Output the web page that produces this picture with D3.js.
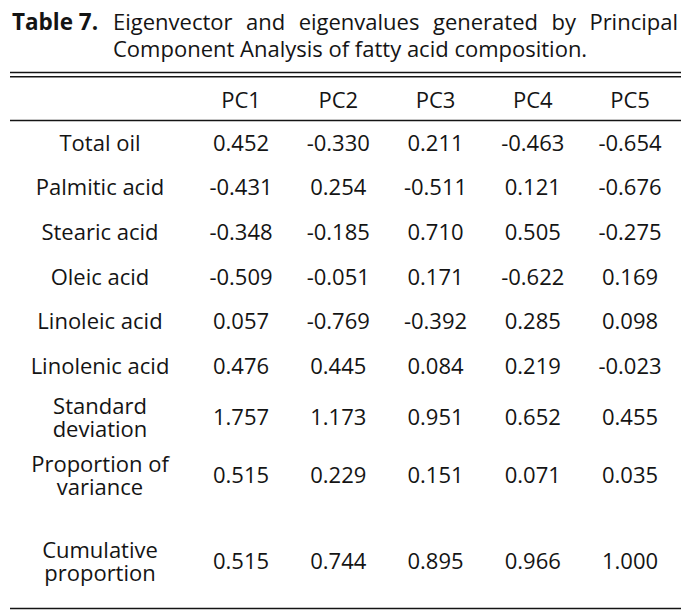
<!DOCTYPE html>
<html>
<head>
<meta charset="utf-8">
<script src="https://cdn.jsdelivr.net/npm/d3@7"></script>
<style>
  html, body { margin: 0; padding: 0; background: #fff; }
  svg { display: block; }
</style>
</head>
<body>
<svg id="chart" width="699" height="611"></svg>
<script>
// ---------- DATA ----------
const titleLabel = "Table 7.";
const titleLine1 = ["Eigenvector", "and", "eigenvalues", "generated", "by", "Principal"];
const titleLine2 = "Component Analysis of fatty acid composition.";

const columns = ["PC1", "PC2", "PC3", "PC4", "PC5"];
const rowLabels = [
  ["Total oil"],
  ["Palmitic acid"],
  ["Stearic acid"],
  ["Oleic acid"],
  ["Linoleic acid"],
  ["Linolenic acid"],
  ["Standard", "deviation"],
  ["Proportion of", "variance"],
  ["Cumulative", "proportion"]
];
const pc1 = ["0.452", "-0.431", "-0.348", "-0.509", "0.057", "0.476", "1.757", "0.515", "0.515"];
const pc2 = ["-0.330", "0.254", "-0.185", "-0.051", "-0.769", "0.445", "1.173", "0.229", "0.744"];
const pc3 = ["0.211", "-0.511", "0.710", "0.171", "-0.392", "0.084", "0.951", "0.151", "0.895"];
const pc4 = ["-0.463", "0.121", "0.505", "-0.622", "0.285", "0.219", "0.652", "0.071", "0.966"];
const pc5 = ["-0.654", "-0.676", "-0.275", "0.169", "0.098", "-0.023", "0.455", "0.035", "1.000"];
const seriesValues = [pc1, pc2, pc3, pc4, pc5];

// ---------- LAYOUT ----------
const FONT = "'Open Sans', Lato, 'DejaVu Sans', sans-serif";
const FS = 22;
const INK = "#141414";
const left = 10, right = 681;
const svg = d3.select("#chart");

// Title
svg.append("text")
  .attr("x", 12).attr("y", 30)
  .attr("font-family", "'Open Sans', sans-serif")
  .attr("font-weight", "bold")
  .attr("font-size", 22.5)
  .attr("fill", INK)
  .text(titleLabel);
const indent = 113;
const words = svg.append("g").selectAll("text").data(titleLine1).join("text")
  .attr("y", 30)
  .attr("font-family", FONT).attr("font-size", FS).attr("fill", INK)
  .text(d => d);
const widths = words.nodes().map(n => n.getComputedTextLength());
const gap = (right - 3 - indent - d3.sum(widths)) / (titleLine1.length - 1);
let cx = indent;
words.each(function(d, i) { d3.select(this).attr("x", cx); cx += widths[i] + gap; });
svg.append("text")
  .attr("x", indent).attr("y", 57)
  .attr("font-family", FONT).attr("font-size", FS).attr("fill", INK)
  .text(titleLine2);

// Rules
const rules = [{y: 72.5, w: 1.4}, {y: 76.8, w: 1.4}, {y: 120.5, w: 1.6}];
svg.append("g").selectAll("line").data(rules).join("line")
  .attr("x1", left).attr("x2", right)
  .attr("y1", d => d.y).attr("y2", d => d.y)
  .attr("stroke", INK).attr("stroke-width", d => d.w);

// Column scale
const x = d3.scalePoint().domain(columns).range([241, 630]);
const labelX = 100;
const capOff = 8;

// Header
svg.append("g").selectAll("text").data(columns).join("text")
  .attr("x", d => x(d)).attr("y", 100 + capOff)
  .attr("text-anchor", "middle")
  .attr("font-family", FONT).attr("font-size", FS).attr("fill", INK)
  .text(d => d);

// Row layout derived from number of label lines
const rowBase = 31.2, perLine = 13.4, lineH = 23, summaryGap = 28;
const heights = rowLabels.map((l, i) => rowBase + perLine * l.length + (i === rowLabels.length - 1 ? summaryGap : 0));
const cum = [0];
heights.forEach(h => cum.push(cum[cum.length - 1] + h));
const y = d3.scaleLinear().domain([0, d3.sum(heights)]).range([120.5, 120.5 + d3.sum(heights)]);
const rowCenter = i => {
  const extra = (i === rowLabels.length - 1 ? summaryGap : 0);
  return y(cum[i] + extra + (heights[i] - extra) / 2);
};

const body = svg.append("g");
rowLabels.forEach((lines, i) => {
  const c = rowCenter(i);
  const t = body.append("text")
    .attr("text-anchor", "middle")
    .attr("font-family", FONT).attr("font-size", FS).attr("fill", INK);
  lines.forEach((ln, k) => {
    t.append("tspan")
      .attr("x", labelX)
      .attr("y", c + (k - (lines.length - 1) / 2) * lineH + capOff)
      .text(ln);
  });
  columns.forEach((col, j) => {
    body.append("text")
      .attr("x", x(col))
      .attr("y", c + capOff)
      .attr("text-anchor", "middle")
      .attr("font-family", FONT).attr("font-size", FS).attr("fill", INK)
      .text(seriesValues[j][i]);
  });
});

// Bottom rule
svg.append("line")
  .attr("x1", left).attr("x2", right)
  .attr("y1", 608.5).attr("y2", 608.5)
  .attr("stroke", INK).attr("stroke-width", 1.6);
</script>
</body>
</html>
